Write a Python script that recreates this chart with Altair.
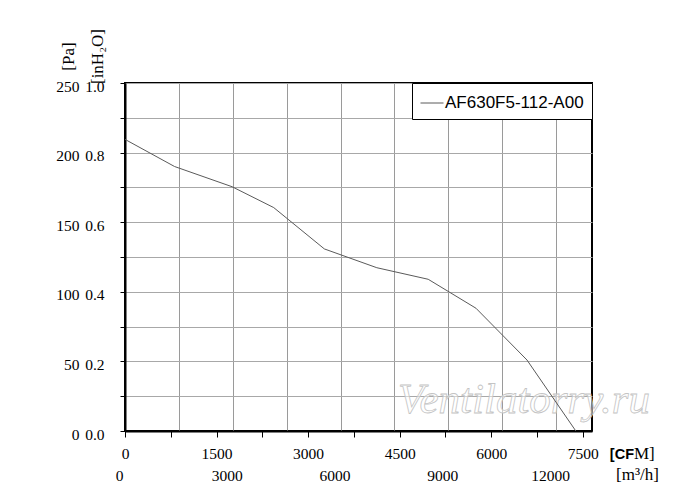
import altair as alt
import pandas as pd

# Curve readings (flow in m3/h, static pressure in Pa)
flow_m3h = [0, 1380, 2980, 4140, 5550, 7010, 8440, 9770, 11190, 12550]
pressure_pa = [209.5, 190, 175.5, 160.5, 130.8, 117.3, 109, 88.2, 51, 0]
series_name = "AF630F5-112-A00"

M3H_PER_CFM = 1.699
x_max_m3h = 13000
y_max_pa = 250

cfm_ticks = [0, 750, 1500, 2250, 3000, 3750, 4500, 5250, 6000, 6750, 7500]
m3h_grid = [0, 1500, 3000, 4500, 6000, 7500, 9000, 10500, 12000]
pa_ticks = [0, 25, 50, 75, 100, 125, 150, 175, 200, 225, 250]
inh2o_ticks = [0.0, 0.2, 0.4, 0.6, 0.8, 1.0]
watermark = "Ventilatorry.ru"

df = pd.DataFrame({"m3h": flow_m3h, "pa": pressure_pa, "series": series_name})
df["cfm"] = df["m3h"] / M3H_PER_CFM
df["inh2o"] = df["pa"] / 250.0

SERIF = "Liberation Serif"
LBL = 15.5

base = alt.Chart(df)

line = base.mark_line(strokeWidth=1).encode(
    x=alt.X("m3h:Q",
            scale=alt.Scale(domain=[0, x_max_m3h], nice=False, zero=False),
            axis=alt.Axis(orient="bottom", values=m3h_grid, grid=True,
                          gridColor="#9a9a9a", gridWidth=1,
                          domain=False, ticks=False,
                          labelExpr="datum.value % 3000 == 0 ? datum.label : ''",
                          format="d", labelFont=SERIF, labelFontSize=LBL,
                          labelColor="black", labelPadding=37, labelOffset=-6,
                          labelFlush=False, labelOverlap=False,
                          title="[m³/h]", titleFont=SERIF, titleFontSize=17,
                          titleFontWeight="normal", titleColor="black",
                          titleX=512, titleY=48, titleAlign="center",
                          titleBaseline="alphabetic", titleAngle=0)),
    y=alt.Y("pa:Q",
            scale=alt.Scale(domain=[0, y_max_pa], nice=False),
            axis=alt.Axis(orient="left", values=pa_ticks, grid=True,
                          gridColor="#a8a8a8", gridWidth=1,
                          domain=True, domainColor="black", domainWidth=2,
                          ticks=True, tickColor="black", tickSize=5, tickWidth=1,
                          labelExpr="datum.value % 50 == 0 ? datum.label : ''",
                          format="d", labelFont=SERIF, labelFontSize=LBL,
                          labelColor="black", labelPadding=41, labelOffset=3,
                          labelBaseline="middle",
                          labelFlush=False, labelOverlap=False,
                          title="[Pa]", titleFont=SERIF, titleFontSize=17,
                          titleFontWeight="normal", titleColor="black",
                          titleX=-57, titleY=-27, titleAngle=270,
                          titleAlign="center", titleBaseline="middle")),
    color=alt.Color("series:N",
                    scale=alt.Scale(range=["#5a5a5a"]),
                    legend=alt.Legend(title=None, orient="top-right", offset=0,
                                      strokeColor="black", fillColor="white",
                                      padding=8, symbolType="stroke",
                                      symbolSize=529, symbolStrokeWidth=1,
                                      labelFont="Liberation Sans",
                                      labelFontSize=17, labelColor="black",
                                      labelOffset=1, labelLimit=300)),
)

cfm_layer = base.mark_line(opacity=0).encode(
    x=alt.X("cfm:Q",
            scale=alt.Scale(domain=[0, x_max_m3h / M3H_PER_CFM], nice=False, zero=False),
            axis=alt.Axis(orient="bottom", values=cfm_ticks, grid=False,
                          domain=True, domainColor="black", domainWidth=2,
                          ticks=True, tickColor="black", tickSize=6, tickWidth=1,
                          labelExpr="datum.value % 1500 == 0 ? datum.label : ''",
                          format="d", labelFont=SERIF, labelFontSize=LBL,
                          labelColor="black", labelPadding=9,
                          labelFlush=False, labelOverlap=False,
                          title="[CF", titleFont="Liberation Sans", titleFontSize=14.5,
                          titleFontWeight="bold", titleColor="black",
                          titleX=508.5, titleY=27.5, titleAlign="right",
                          titleBaseline="alphabetic", titleAngle=0)),
    y=alt.Y("pa:Q", scale=alt.Scale(domain=[0, y_max_pa], nice=False), axis=None),
)

inh2o_layer = base.mark_line(opacity=0).encode(
    x=alt.X("m3h:Q",
            scale=alt.Scale(domain=[0, x_max_m3h], nice=False, zero=False),
            axis=alt.Axis(orient="bottom", grid=False, domain=False, ticks=False,
                          labels=False,
                          title="M]", titleFont=SERIF, titleFontSize=17,
                          titleFontWeight="normal", titleColor="black",
                          titleX=508.5, titleY=27.5, titleAlign="left",
                          titleBaseline="alphabetic", titleAngle=0)),
    y=alt.Y("inh2o:Q",
            scale=alt.Scale(domain=[0, 1.0], nice=False),
            axis=alt.Axis(orient="left", values=inh2o_ticks, grid=False,
                          domain=False, ticks=False, tickSize=0,
                          format=".1f", labelFont=SERIF, labelFontSize=LBL,
                          labelColor="black", labelPadding=21, labelOffset=3,
                          labelBaseline="middle",
                          labelFlush=False, labelOverlap=False,
                          title="[inH₂O]", titleFont=SERIF, titleFontSize=17,
                          titleFontWeight="normal", titleColor="black",
                          titleX=-28, titleY=-27, titleAngle=270,
                          titleAlign="center", titleBaseline="middle")),
)

wm = alt.Chart(alt.Data(values=[{"t": watermark}])).mark_text(
    font=SERIF, fontSize=43, fontStyle="italic", align="left",
    baseline="alphabetic", fill="white", fillOpacity=0.5,
    stroke="#c4c4c4", strokeWidth=0.8, clip=False,
).encode(text="t:N", x=alt.value(273), y=alt.value(330))

chart = alt.layer(wm, line, cfm_layer, inh2o_layer).resolve_scale(
    x="independent", y="independent", color="independent"
).properties(
    width=467, height=348,
    autosize=alt.AutoSizeParams(type="none"),
    padding={"left": 117, "top": 75, "right": 100, "bottom": 72},
    background="white",
).configure_view(stroke="black", strokeWidth=2)

chart.save("out.html", embed_options={"renderer": "svg", "actions": False})
